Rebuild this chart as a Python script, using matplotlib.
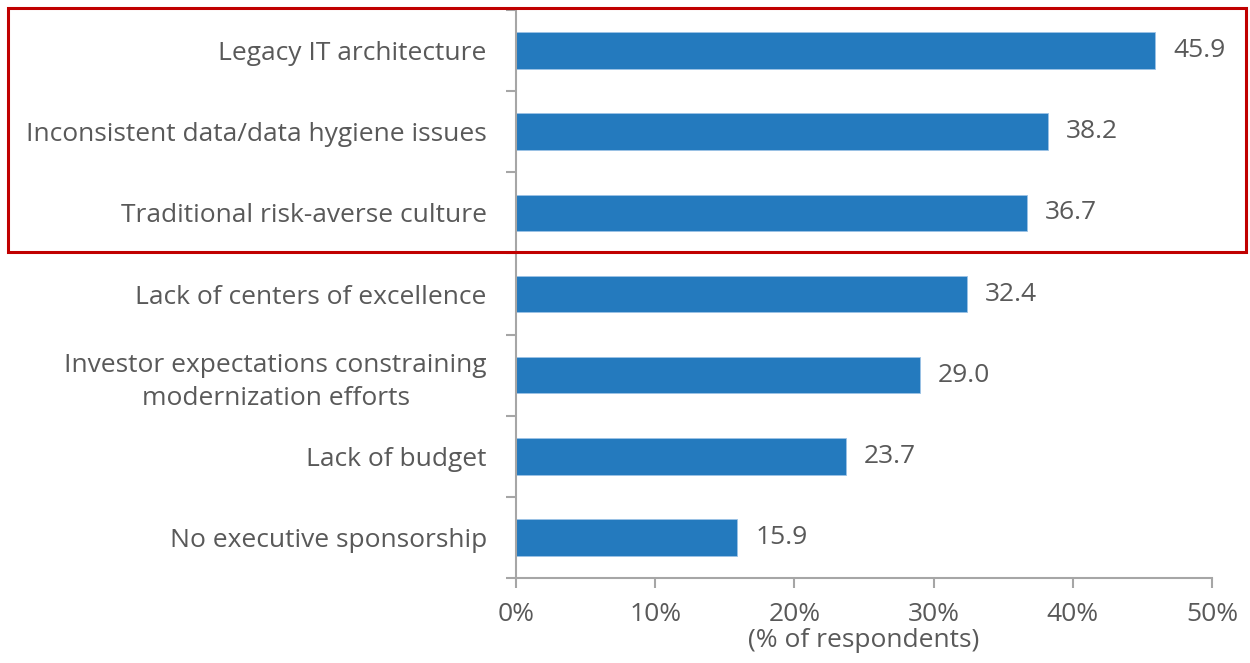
import matplotlib.pyplot as plt
from matplotlib.patches import Rectangle
from matplotlib.ticker import FixedLocator, PercentFormatter

plt.rcParams['font.family'] = ['Open Sans', 'DejaVu Sans']

categories = ['Legacy IT architecture',
              'Inconsistent data/data hygiene issues',
              'Traditional risk-averse culture',
              'Lack of centers of excellence',
              'Investor expectations constraining\nmodernization efforts',
              'Lack of budget',
              'No executive sponsorship']
values = [45.9, 38.2, 36.7, 32.4, 29.0, 23.7, 15.9]
xticks = [0, 10, 20, 30, 40, 50]

grey = '#595959'
axis_grey = '#A6A6A6'
bar_blue = '#247ABE'
fs = 19

fig = plt.figure(figsize=(12.5, 6.63), dpi=100)
ax = fig.add_axes([0.4128, 0.128, 0.5568, 0.857])

ypos = list(range(len(categories)))
ax.barh(ypos, values, height=0.45, color=bar_blue, edgecolor='#9CC3E6', linewidth=0.6)
for y, v in zip(ypos, values):
    ax.text(v + 1.3, y, f'{v:.1f}', va='center', ha='left', fontsize=fs, color=grey)

ax.set_ylim(len(categories) - 0.5, -0.5)
ax.set_xlim(0, 50)
ax.set_yticks(ypos)
ax.set_yticklabels(categories, fontsize=fs, color=grey, linespacing=1.4,
                   multialignment='center')
ax.yaxis.set_minor_locator(FixedLocator([i - 0.5 for i in range(len(categories) + 1)]))
ax.tick_params(axis='y', which='major', length=0, pad=21)
ax.tick_params(axis='y', which='minor', length=7, width=1.5, color=axis_grey)

ax.set_xticks(xticks)
ax.xaxis.set_major_formatter(PercentFormatter(decimals=0))
ax.tick_params(axis='x', length=7, width=1.5, color=axis_grey, labelsize=fs,
               labelcolor=grey, pad=10)
ax.set_xlabel('(% of respondents)', fontsize=fs, color=grey, labelpad=1)

for s in ['top', 'right']:
    ax.spines[s].set_visible(False)
for s in ['left', 'bottom']:
    ax.spines[s].set_color(axis_grey)
    ax.spines[s].set_linewidth(1.5)

# red highlight box around the top three
fig.patches.append(Rectangle((8 / 1250, 1 - 252 / 663), 1238 / 1250, 244 / 663,
                             transform=fig.transFigure, fill=False,
                             edgecolor='#C00000', linewidth=2.2))

fig.savefig('out.png', dpi=100)
